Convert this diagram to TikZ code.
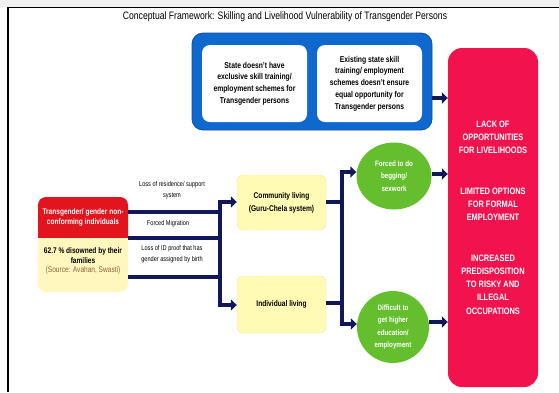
\documentclass[tikz,border=0pt]{standalone}
\usepackage{fontspec}
\setmainfont{Liberation Sans}[FakeStretch=0.8]
\usetikzlibrary{arrows.meta,shapes.geometric,calc}
\definecolor{navy}{RGB}{16,24,90}
\definecolor{bluebg}{RGB}{14,104,206}
\definecolor{leftred}{RGB}{226,20,30}
\definecolor{lyellow}{RGB}{255,247,190}
\definecolor{byellow}{RGB}{255,250,180}
\definecolor{gcol}{RGB}{100,190,45}
\definecolor{rcol}{RGB}{242,18,78}
\definecolor{srcbrown}{RGB}{140,100,60}
\begin{document}
\begin{tikzpicture}[x=1pt,y=-1pt,
  titletext/.style={font=\fontsize{10.8}{12}\selectfont},
  bluebox/.style={draw=bluebg!80!black, line width=0.8pt, fill=bluebg, rounded corners=11pt, minimum width=240pt, minimum height=97pt},
  whitebox/.style={fill=white, rounded corners=8pt, minimum width=105pt, minimum height=77pt, align=center, inner sep=1pt, font=\fontsize{8.5}{11.7}\selectfont\bfseries},
  redbig/.style={fill=rcol, rounded corners=14pt, minimum width=90pt, minimum height=339pt, align=center, text=white, font=\fontsize{9.3}{13.3}\selectfont\bfseries},
  ybox/.style={fill=byellow, draw=byellow!85!gray, line width=0.4pt, rounded corners=6pt, minimum width=89pt, align=center, font=\fontsize{8.3}{13}\selectfont\bfseries},
  gcirc/.style={ellipse, fill=gcol, inner sep=0pt, align=center, text=white, font=\fontsize{7.8}{12.5}\selectfont\bfseries},
  lefttext/.style={align=center, inner sep=0pt, font=\fontsize{8.2}{9.5}\selectfont\bfseries},
  lbl/.style={align=center, inner sep=0pt, font=\fontsize{7}{10.5}\selectfont},
  navybar/.style={draw=navy, line width=4.5pt},
  arr/.style={draw=navy, line width=4.5pt, -{Triangle[length=6pt,width=11pt]}}
]
\useasboundingbox (0,0) rectangle (559,392);
\fill[gray!12] (0,0) rectangle (559,7);
\draw[line width=1.5pt] (7,7.5) -- (559,7.5);
\draw[line width=2pt] (8,7) -- (8,392);

\node[titletext] (title) at (285,17) {Conceptual Framework: Skilling and Livelihood Vulnerability of Transgender Persons};

% top blue box
\node[bluebox] (blue) at (312,81.5) {};
\node[whitebox] (w1) at (254.5,83.5) {State doesn't have\\exclusive skill training/\\employment schemes for\\Transgender persons};
\node[whitebox] (w2) at (369.5,83.5) {Existing state skill\\training/ employment\\schemes doesn't ensure\\equal opportunity for\\Transgender persons};

% right red box
\node[redbig] (R) at (493,217.5) {LACK OF\\OPPORTUNITIES\\FOR LIVELIHOODS\\[27pt]LIMITED OPTIONS\\FOR FORMAL\\EMPLOYMENT\\[27pt]INCREASED\\PREDISPOSITION\\TO RISKY AND\\ILLEGAL\\OCCUPATIONS};

% left box
\node[fill=lyellow, rounded corners=8pt, minimum width=90pt, minimum height=95pt] (L) at (83,244.5) {};
\node[fill=leftred, rounded corners=8pt, minimum width=90pt, minimum height=51pt] (Lr) at (83,222.5) {};
\fill[lyellow] (38,238) rectangle (128,250);
\node[lefttext, text=white] (Lt) at (83,217.5) {Transgender/ gender non-\\conforming individuals};
\node[lefttext] (Ly) at (83,261) {62.7 \% disowned by their\\families\\{\mdseries\color{srcbrown}(Source: Avahan, Swasti)}};

% living boxes
\node[ybox, minimum height=55pt] (C) at (281.5,202.5) {Community living\\(Guru-Chela system)};
\node[ybox, minimum height=57pt] (I) at (281.5,304.5) {Individual living};

% green circles
\node[gcirc, minimum width=75pt, minimum height=67pt] (G1) at (394,176) {Forced to do\\begging/\\sexwork};
\node[gcirc, minimum width=72pt, minimum height=72pt] (G2) at (393,327) {Difficult to\\get higher\\education/\\employment};

% labels
\node[lbl] (l1) at (172,190) {Loss of residence/ support\\system};
\node[lbl] (l2) at (168,224) {Forced Migration};
\node[lbl] (l3) at (172,254) {Loss of ID proof that has\\gender assigned by birth};

% junctions
\coordinate (j1) at (220,202);
\coordinate (j2) at (220,305);
\coordinate (b1) at (220,212);
\coordinate (b2) at (220,238);
\coordinate (b3) at (220,277);
\coordinate (k1) at (342,172);
\coordinate (k2) at (342,324);
\coordinate (k3) at (342,202);
\coordinate (k4) at (342,303);

\draw[navybar] (L.east |- b1) -- (b1);
\draw[navybar] (L.east |- b2) -- (b2);
\draw[navybar] (L.east |- b3) -- (b3);
\draw[arr] (j2) -- (j1) -- (C.west |- j1);
\draw[arr] (j1) -- (j2) -- (I.west |- j2);

\draw[navybar] (C.east |- k3) -- (k3);
\draw[navybar] (I.east |- k4) -- (k4);
\draw[arr] (k2) -- (k1) -- (G1.west |- k1);
\draw[arr] (k1) -- (k2) -- (G2.west |- k2);

\coordinate (r1) at (0,98);
\coordinate (r2) at (0,174);
\coordinate (r3) at (0,322);
\draw[arr] (blue.east |- r1) -- (R.west |- r1);
\draw[arr] (G1.east |- r2) -- (R.west |- r2);
\draw[arr] (G2.east |- r3) -- (R.west |- r3);
\end{tikzpicture}
\end{document}
